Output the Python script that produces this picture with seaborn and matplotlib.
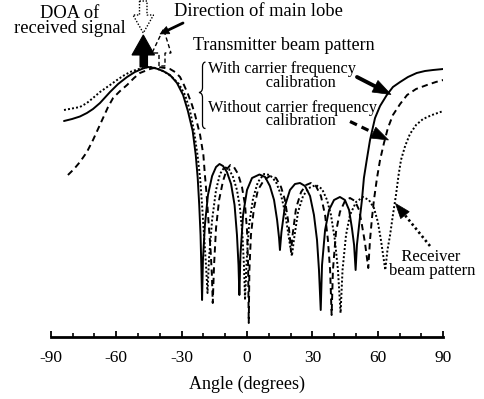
import matplotlib
matplotlib.use("Agg")
import numpy as np
import pandas as pd
import matplotlib.pyplot as plt
import seaborn as sns
from matplotlib.patches import Polygon, PathPatch
from matplotlib.path import Path
from matplotlib.lines import Line2D

# Transmitter beam pattern, with carrier frequency calibration (angle in deg, gain in dB)
tx_cal_angle = [-83.9, -80.2, -76.6, -73.4, -70.6, -67.4, -62.8, -59.1, -55.0, -51.4, -47.7, -45.4,
                -42.2, -38.5, -35.3, -32.1, -29.3, -27.1, -24.9, -23.5, -22.6, -21.9, -21.3, -20.9,
                -20.6, -20.2, -19.3, -17.9, -16.0, -14.2, -12.6, -11.0, -9.2, -7.3, -5.7, -4.6,
                -3.9, -3.5, -3.0, -1.8, 0.0, 2.3, 5.7, 8.3, 10.5, 12.4, 13.8, 14.7, 15.1, 15.8,
                17.4, 19.7, 22.0, 24.3, 26.6, 28.9, 30.7, 32.1, 33.0, 33.8, 34.4, 35.8, 37.6,
                39.9, 42.6, 44.9, 46.8, 48.1, 49.1, 49.8, 50.4, 51.4, 52.7, 53.6, 54.9, 56.4,
                58.7, 61.0, 64.1, 66.9, 70.2, 73.8, 77.8, 81.6, 85.3, 90.0]
tx_cal_gain = [-10.8, -10.4, -9.9, -9.2, -8.4, -7.2, -5.0, -3.4, -2.0, -1.0, -0.3, 0.0,
               -0.2, -0.8, -1.6, -3.2, -5.6, -8.8, -12.8, -17.6, -22.2, -27.6, -33.6, -40.6,
               -46.6, -38.6, -31.6, -25.6, -21.8, -20.0, -19.4, -19.8, -21.0, -23.4, -27.6, -33.6,
               -39.6, -45.6, -37.6, -29.6, -24.6, -22.2, -21.5, -22.0, -23.8, -26.6, -30.6, -34.2,
               -36.6, -33.0, -27.8, -24.6, -23.4, -23.2, -23.8, -25.8, -29.6, -34.6, -40.6, -48.6,
               -39.6, -32.6, -28.6, -26.6, -26.0, -26.6, -28.6, -32.2, -35.6, -40.6, -35.6, -31.6,
               -26.6, -22.2, -18.6, -14.6, -10.2, -7.8, -5.6, -4.0, -3.0, -2.0, -1.2, -0.8, -0.6,
               -0.4]

# Transmitter beam pattern, without carrier frequency calibration
tx_uncal_angle = [-82.1, -79.3, -76.6, -73.4, -70.6, -68.3, -66.0, -63.7, -61.4, -58.2, -55.0, -51.8,
                  -49.1, -44.5, -40.8, -37.6, -35.3, -33.0, -30.7, -28.9, -26.9, -25.2, -23.8, -21.5,
                  -20.0, -19.3, -18.5, -17.7, -16.7, -16.1, -15.7, -15.1, -14.2, -12.8, -11.0, -9.2,
                  -7.6, -6.0, -4.1, -2.3, -0.9, 0.0, 0.5, 0.8, 1.1, 1.8, 3.2, 5.0, 7.8, 10.5, 13.3,
                  15.6, 17.4, 18.8, 19.7, 20.2, 20.9, 22.5, 24.8, 27.1, 29.3, 31.6, 33.9, 35.8,
                  37.1, 38.1, 38.8, 39.4, 40.8, 42.6, 44.9, 47.2, 49.5, 51.4, 52.7, 54.1, 55.6,
                  56.4, 57.3, 58.2, 59.6, 61.0, 62.8, 64.6, 66.9, 70.2, 73.4, 77.5, 82.5, 86.6,
                  90.0]
tx_uncal_gain = [-21.6, -20.4, -19.0, -17.0, -14.6, -12.4, -10.2, -8.0, -6.2, -4.8, -3.6, -2.2,
                 -1.2, -0.4, 0.0, -0.2, -0.4, -1.0, -2.0, -3.6, -5.6, -7.6, -9.6, -13.6,
                 -17.6, -21.6, -25.6, -30.6, -36.6, -41.6, -47.2, -39.6, -32.2, -26.6, -22.8, -20.4,
                 -19.6, -20.0, -21.4, -24.0, -27.6, -32.6, -39.6, -51.2, -40.6, -33.6, -28.2, -24.6,
                 -22.6, -21.8, -22.2, -24.0, -26.6, -30.6, -34.2, -37.0, -33.6, -28.2, -25.0, -23.6,
                 -23.2, -23.8, -25.8, -29.6, -34.6, -40.6, -49.6, -40.6, -33.0, -29.0, -26.8, -26.2,
                 -26.8, -28.6, -31.6, -35.2, -40.2, -34.6, -30.2, -26.6, -22.2, -18.6, -15.2, -12.2,
                 -9.6, -7.4, -5.6, -4.4, -3.6, -3.0, -2.6]

# Receiver beam pattern
rx_angle = [-83.9, -80.2, -76.6, -73.4, -70.6, -67.4, -62.8, -59.6, -56.9, -53.6, -50.4, -46.8,
            -44.5, -40.8, -37.6, -34.4, -31.2, -28.4, -26.1, -24.3, -22.7, -21.5, -20.6, -19.7,
            -18.8, -18.1, -17.4, -16.0, -14.2, -12.4, -10.3, -8.3, -6.4, -4.6, -3.2, -2.1, -1.4,
            -0.9, -0.2, 0.9, 2.8, 5.0, 7.8, 10.5, 13.3, 15.6, 17.4, 18.8, 19.7, 20.6, 21.5,
            23.4, 25.7, 28.4, 31.6, 34.4, 36.7, 38.5, 40.3, 41.7, 42.9, 43.8, 45.4, 47.2, 50.0,
            53.2, 55.9, 58.2, 60.0, 61.4, 62.6, 63.4, 64.4, 65.6, 66.9, 68.3, 69.5, 70.6, 72.5,
            74.7, 77.5, 80.7, 84.8, 90.0]
rx_gain = [-8.6, -8.3, -8.0, -7.2, -6.2, -5.0, -3.6, -2.6, -1.8, -1.0, -0.5, -0.1,
           0.0, -0.4, -1.0, -2.0, -3.4, -5.6, -8.8, -12.8, -17.6, -22.2, -27.6, -33.6,
           -39.6, -45.2, -38.2, -30.6, -24.6, -21.4, -20.0, -20.4, -22.0, -24.6, -28.2, -33.6, -39.6,
           -46.6, -39.0, -31.8, -26.2, -23.0, -21.4, -21.6, -23.0, -25.6, -29.0, -33.0, -35.6, -37.8, -34.6,
           -29.0, -25.8, -24.2, -23.6, -24.4, -26.6, -29.6, -34.6, -40.6, -49.2, -40.6, -33.6, -29.6, -27.0,
           -26.0, -26.6, -28.2, -31.0, -34.6, -38.2, -40.6, -36.6, -33.6, -29.6, -25.6, -21.6, -18.6, -15.8,
           -13.4, -11.6, -10.4, -9.6, -8.8]

x_ticks = [-90, -60, -30, 0, 30, 60, 90]

sns.set_theme(style="white")
plt.rcParams["font.family"] = ["Liberation Serif", "DejaVu Serif"]
plt.rcParams["axes.unicode_minus"] = False

W, H = 484, 399
fig = plt.figure(figsize=(W / 100, H / 100), dpi=100)
ax = fig.add_axes([50.7 / W, 62 / H, 392.6 / W, 327 / H])

patterns = pd.concat([
    pd.DataFrame({"angle": rx_angle, "gain": rx_gain, "curve": "rx"}),
    pd.DataFrame({"angle": tx_uncal_angle, "gain": tx_uncal_gain, "curve": "tx_uncal"}),
    pd.DataFrame({"angle": tx_cal_angle, "gain": tx_cal_gain, "curve": "tx_cal"}),
])
dash_styles = {"rx": (0, (1.0, 1.1)), "tx_uncal": (0, (3.2, 2.2)), "tx_cal": "-"}
for name in ["rx", "tx_uncal", "tx_cal"]:
    sub = patterns[patterns["curve"] == name]
    sns.lineplot(data=sub, x="angle", y="gain", ax=ax, color="black", lw=1.4,
                 estimator=None, sort=False)
    ax.get_lines()[-1].set_linestyle(dash_styles[name])

ax.set_xlim(-90, 90)
ax.set_ylim(-54, 11.4)
for side in ["left", "right", "top"]:
    ax.spines[side].set_visible(False)
ax.spines["bottom"].set_linewidth(2.0)
ax.spines["bottom"].set_color("black")
ax.set_yticks([])
ax.set_xticks(x_ticks)
ax.set_xticklabels([str(t) for t in x_ticks])
ax.set_xticks(np.arange(-90, 91, 10), minor=True)
ax.tick_params(axis="x", which="major", direction="in", length=4.5, width=1.3,
               colors="black", labelsize=12.5, pad=9, bottom=True)
ax.tick_params(axis="x", which="minor", direction="in", length=2.8, width=1.2,
               colors="black", bottom=True)
ax.set_xlabel("Angle (degrees)", fontsize=13, color="black", labelpad=7.5)
ax.set_ylabel("")
ax.grid(False)


def fxy(x, y):
    return (x / W, 1 - y / H)


def label(x, y, s, size=12, spacing=1.0, ha="center", align="center"):
    fig.text(*fxy(x, y), s, ha=ha, va="center", fontsize=size, color="black",
             linespacing=spacing, multialignment=align)


def shape(points, face, ls, lw=1.0):
    fig.add_artist(Polygon([fxy(*p) for p in points], closed=True, transform=fig.transFigure,
                           facecolor=face, edgecolor="black", linestyle=ls, lw=lw))


def arrow(x0, y0, x1, y1, lw, ls, head_len, head_w):
    d = np.array([x1 - x0, y1 - y0], dtype=float)
    u = d / np.hypot(*d)
    n = np.array([-u[1], u[0]])
    tip = np.array([x1, y1], dtype=float)
    base = tip - u * head_len
    fig.add_artist(Line2D([fxy(x0, y0)[0], fxy(*base)[0]], [fxy(x0, y0)[1], fxy(*base)[1]],
                          transform=fig.transFigure, color="black", lw=lw, linestyle=ls))
    head = [tip, base + n * head_w / 2, base - n * head_w / 2]
    shape(head, "black", "-", 0.5)


# direction markers above the main lobe
shape([(139.5, 1), (147, 1), (147, 15), (153.5, 15), (143.3, 33), (133, 15), (139.5, 15)],
      "white", (0, (1, 1.2)), 1.0)
shape([(159, 66), (159, 53), (152, 53), (163.5, 29), (171, 53), (165, 53), (165, 66)],
      "white", (0, (3, 2)), 1.0)
shape([(140, 67), (140, 55), (132, 55), (143.3, 35), (154.5, 55), (147.5, 55), (147.5, 67)],
      "black", "-", 0.8)

label(70, 21, "DOA of\nreceived signal", 13.3, 0.78)
label(258, 12, "Direction of main lobe", 13.3)
arrow(183, 23, 160, 34, 2.0, "-", 9, 8)

label(284, 45, "Transmitter beam pattern", 13)
label(207.5, 76, "With carrier frequency\n" + " " * 14 + "calibration", 11.8, 0.82,
      ha="left", align="left")
label(208.5, 114.5, "Without carrier frequency\n" + " " * 14 + "calibration", 11.8, 0.82,
      ha="left", align="left")
label(389, 264, "   Receiver\nbeam pattern", 12, 0.82, ha="left", align="left")

arrow(357, 77, 391, 94.5, 2.8, "-", 18, 13)
arrow(350, 121.5, 388.5, 140, 2.3, (0, (2.4, 1.6)), 17, 12)
arrow(430, 246, 395.5, 203.5, 1.9, (0, (0.9, 1.1)), 15, 11)

# curly brace grouping the two transmitter cases
bx = 202.5
brace = [(205.5, 62), (bx, 62.5), (bx, 66.5), (bx, 87.5), (bx, 92), (199, 92.5),
         (bx, 93), (bx, 97.5), (bx, 124.5), (bx, 128.5), (205.5, 128.5)]
codes = [Path.MOVETO, Path.CURVE3, Path.CURVE3, Path.LINETO, Path.CURVE3, Path.CURVE3,
         Path.CURVE3, Path.CURVE3, Path.LINETO, Path.CURVE3, Path.CURVE3]
fig.add_artist(PathPatch(Path([fxy(*p) for p in brace], codes), transform=fig.transFigure,
                         facecolor="none", edgecolor="black", lw=0.9))

fig.savefig("out.png", dpi=100)
